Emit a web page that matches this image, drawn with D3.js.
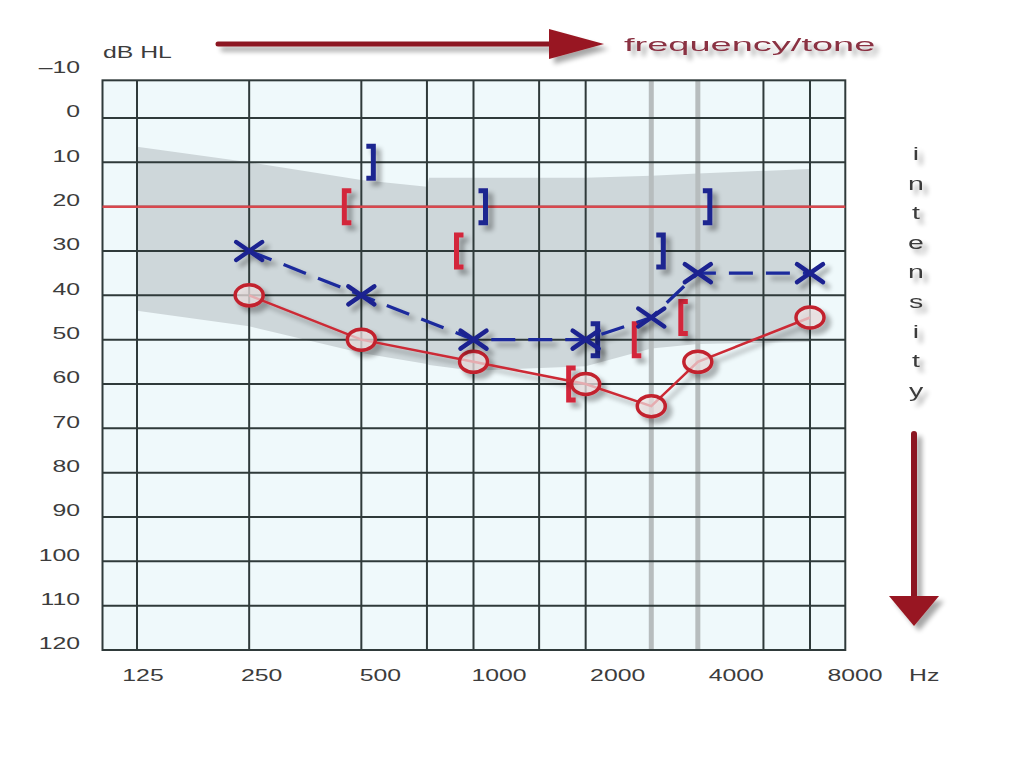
<!DOCTYPE html>
<html><head><meta charset="utf-8">
<script src="https://cdn.jsdelivr.net/npm/d3@7"></script>
<style>html,body{margin:0;padding:0;background:#fff;} svg{display:block;}</style>
</head><body><svg id="c" width="1024" height="768"></svg>
<script>
// ---------------- data ----------------
const frequencies = [250, 500, 1000, 2000, 3000, 4000, 8000];
const rightEarAir = [40, 50, 55, 60, 65, 55, 45];   // red O
const leftEarAir = [30, 40, 50, 50, 45, 35, 35];    // blue X
const bcFrequencies = [500, 1000, 2000, 3000, 4000];
const rightEarBoneMasked = [20, 30, 60, 50, 45];    // red [
const leftEarBoneMasked = [10, 20, 50, 30, 20];     // blue ]
const bandFrequencies = [125, 250, 500, 750, 760, 1000, 2000, 3000, 4000, 8000];
const bandUpper = [6.5, 10, 14, 15.5, 13.5, 13.5, 13.5, 13, 12.5, 11.5];
const bandLower = [43.5, 47, 53, 55.5, 55.7, 57, 56, 52, 51, 50.5];
const xTickLabels = [125, 250, 500, 1000, 2000, 4000, 8000];
const yTickLabels = [-10, 0, 10, 20, 30, 40, 50, 60, 70, 80, 90, 100, 110, 120];
const gridFrequencies = [125, 250, 500, 750, 1000, 1500, 2000, 6000, 8000];
const lightGridFrequencies = [3000, 4000];
const gridLevels = [0, 10, 20, 30, 40, 50, 60, 70, 80, 90, 100, 110];
const referenceLevel = 20;
const frameFreq = [101, 9950];
const frameLevel = [-8.5, 120];
const intensityLetters = ["i","n","t","e","n","s","i","t","y"];

// ---------------- scales ----------------
const x = d3.scaleLog().domain([125, 8000]).range([137, 810]);
const xLabel = d3.scaleLog().domain([125, 8000]).range([143, 855]);
const y = d3.scaleLinear().domain([0, 120]).range([118, 650]);

const svg = d3.select("#c");
const defs = svg.append("defs");
const f = defs.append("filter").attr("id","sh").attr("x","-50%").attr("y","-50%").attr("width","200%").attr("height","200%");
f.append("feGaussianBlur").attr("in","SourceAlpha").attr("stdDeviation",2.5);
f.append("feOffset").attr("dx",5).attr("dy",5).attr("result","o");
f.append("feComponentTransfer").append("feFuncA").attr("type","linear").attr("slope",0.35);
const fm = f.append("feMerge"); fm.append("feMergeNode"); fm.append("feMergeNode").attr("in","SourceGraphic");

svg.append("rect").attr("width",1024).attr("height",768).attr("fill","#ffffff");

const L = x(frameFreq[0]), R = x(frameFreq[1]), T = y(frameLevel[0]), B = y(frameLevel[1]);
svg.append("rect").attr("x",L).attr("y",T).attr("width",R-L).attr("height",B-T).attr("fill","#eff9fb");

// normal band
const band = bandFrequencies.map((fq,i)=>({f:fq,u:bandUpper[i],l:bandLower[i]}));
svg.append("path").datum(band)
  .attr("d", d3.area().x(d=>x(d.f)).y0(d=>y(d.l)).y1(d=>y(d.u)))
  .attr("fill","#ced7da");

// grid
svg.append("g").selectAll("line").data(lightGridFrequencies).join("line")
  .attr("x1",d=>x(d)).attr("x2",d=>x(d)).attr("y1",T).attr("y2",B)
  .attr("stroke","#b7bdbe").attr("stroke-width",5);
svg.append("g").selectAll("line").data(gridFrequencies).join("line")
  .attr("x1",d=>x(d)).attr("x2",d=>x(d)).attr("y1",T).attr("y2",B)
  .attr("stroke","#2f3a3a").attr("stroke-width",2);
svg.append("g").selectAll("line").data(gridLevels).join("line")
  .attr("x1",L).attr("x2",R).attr("y1",d=>y(d)).attr("y2",d=>y(d))
  .attr("stroke","#2f3a3a").attr("stroke-width",2);
svg.append("rect").attr("x",L).attr("y",T).attr("width",R-L).attr("height",B-T)
  .attr("fill","none").attr("stroke","#2f3a3a").attr("stroke-width",2);

// reference line
svg.append("line").attr("x1",L).attr("x2",R).attr("y1",y(referenceLevel)).attr("y2",y(referenceLevel))
  .attr("stroke","#d8474d").attr("stroke-width",2.5);

// brackets (masked bone conduction)
function bracket(side){ // side -1 = "[", +1 = "]"
  const h=16, c=7*side;
  return `M${-c},${-h} L0,${-h} L0,${h} L${-c},${h}`;
}
const gB = svg.append("g").attr("filter","url(#sh)");
gB.selectAll("path.r").data(bcFrequencies.map((fq,i)=>({f:fq,v:rightEarBoneMasked[i]}))).join("path")
  .attr("class","r").attr("transform",d=>`translate(${x(d.f)-17},${y(d.v)})`)
  .attr("d",bracket(-1)).attr("fill","none").attr("stroke","#d3263a").attr("stroke-width",5);
gB.selectAll("path.l").data(bcFrequencies.map((fq,i)=>({f:fq,v:leftEarBoneMasked[i]}))).join("path")
  .attr("class","l").attr("transform",d=>`translate(${x(d.f)+12},${y(d.v)})`)
  .attr("d",bracket(1)).attr("fill","none").attr("stroke","#1f2590").attr("stroke-width",5);

// right ear (red O)
const red = frequencies.map((fq,i)=>({f:fq,v:rightEarAir[i]}));
const gR = svg.append("g").attr("filter","url(#sh)");
gR.append("path").datum(red).attr("d",d3.line().x(d=>x(d.f)).y(d=>y(d.v)))
  .attr("fill","none").attr("stroke","#cc2a36").attr("stroke-width",2.5);
gR.selectAll("ellipse").data(red).join("ellipse")
  .attr("cx",d=>x(d.f)).attr("cy",d=>y(d.v)).attr("rx",14).attr("ry",10.5)
  .attr("fill","rgba(240,228,228,0.7)").attr("stroke","#c2222e").attr("stroke-width",3.5);

// left ear (blue X)
const blue = frequencies.map((fq,i)=>({f:fq,v:leftEarAir[i]}));
const gX = svg.append("g").attr("filter","url(#sh)");
gX.append("path").datum(blue).attr("d",d3.line().x(d=>x(d.f)).y(d=>y(d.v)))
  .attr("fill","none").attr("stroke","#1c2a9c").attr("stroke-width",3.2).attr("stroke-dasharray","24,13");
gX.selectAll("path.x").data(blue).join("path").attr("class","x")
  .attr("transform",d=>`translate(${x(d.f)},${y(d.v)})`)
  .attr("d","M-13,-9 L13,9 M-13,9 L13,-9")
  .attr("stroke","#1a2290").attr("stroke-width",4.5).attr("stroke-linecap","round");

// tick labels (horizontally stretched like the reference)
const sx = 1.55;
const tf = "Liberation Sans, Arial, sans-serif";
svg.append("g").selectAll("text").data(yTickLabels).join("text")
  .attr("transform",d=>`translate(80,${y(d)-5}) scale(${sx},1)`)
  .attr("text-anchor","end").attr("dominant-baseline","middle")
  .attr("font-family",tf).attr("font-size",16).attr("fill","#3c3c3c")
  .text(d=>d===-10?"\u201310":d);
svg.append("g").selectAll("text").data(xTickLabels).join("text")
  .attr("transform",d=>`translate(${xLabel(d)},677) scale(${sx},1)`)
  .attr("text-anchor","middle").attr("dominant-baseline","middle")
  .attr("font-family",tf).attr("font-size",16).attr("fill","#3c3c3c")
  .text(d=>d);
svg.append("text").attr("transform",`translate(909,677) scale(${sx},1)`)
  .attr("dominant-baseline","middle").attr("font-family",tf).attr("font-size",16).attr("fill","#3c3c3c").text("Hz");
svg.append("text").attr("transform",`translate(103,58) scale(${sx},1)`)
  .attr("font-family",tf).attr("font-size",16).attr("fill","#3c3c3c").text("dB HL");

// top arrow
const gA = svg.append("g").attr("filter","url(#sh)");
gA.append("line").attr("x1",218).attr("x2",560).attr("y1",44).attr("y2",44)
  .attr("stroke","#8c1620").attr("stroke-width",5).attr("stroke-linecap","round");
gA.append("path").attr("d","M549,29 L604,44 L549,59 Z").attr("fill","#981622");
gA.append("text").attr("transform","translate(624,51) scale(2.0,1)")
  .attr("font-family",tf).attr("font-size",19).attr("fill","#8a3042").text("frequency/tone");

// intensity
const gI = svg.append("g").attr("filter","url(#sh)");
gI.selectAll("text").data(intensityLetters).join("text")
  .attr("transform",(d,i)=>`translate(916,${155+i*29.6}) scale(1.5,1)`)
  .attr("text-anchor","middle").attr("dominant-baseline","middle")
  .attr("font-family",tf).attr("font-size",19).attr("fill","#3a3a3a")
  .text(d=>d);
gI.append("line").attr("x1",914).attr("x2",914).attr("y1",434).attr("y2",600)
  .attr("stroke","#8c1620").attr("stroke-width",6).attr("stroke-linecap","round");
gI.append("path").attr("d","M889,596 L939,596 L914,626 Z").attr("fill","#981622");
</script></body></html>
